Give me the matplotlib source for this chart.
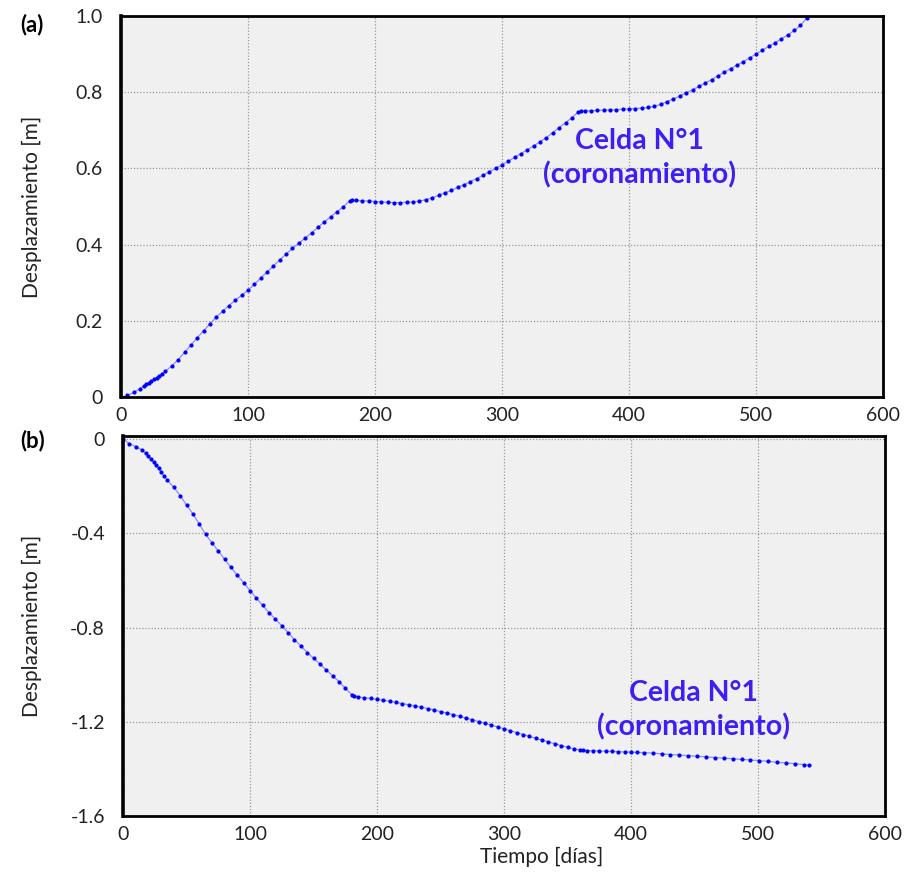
import matplotlib
matplotlib.use("Agg")
import matplotlib.pyplot as plt

plt.rcParams['font.family'] = ['Lato', 'DejaVu Sans']

# ---------------- data ----------------
t_a = [0, 5, 10, 15, 18, 20, 22, 24, 26, 28, 30, 32, 35, 40, 45, 50, 55, 60, 65, 70,
       75, 80, 85, 90, 95, 100, 105, 110, 115, 120, 125, 130, 135, 140, 145, 150, 155,
       160, 165, 170, 175, 180, 182, 185, 190, 195, 200, 205, 210, 215, 220, 225, 230,
       235, 240, 245, 250, 255, 260, 265, 270, 275, 280, 285, 290, 295, 300, 305, 310,
       315, 320, 325, 330, 335, 340, 345, 350, 355, 360, 362, 365, 370, 375, 380, 385,
       390, 395, 400, 405, 410, 415, 420, 425, 430, 435, 440, 445, 450, 455, 460, 465,
       470, 475, 480, 485, 490, 495, 500, 505, 510, 515, 520, 525, 530, 535, 540]
d_a = [0.000, 0.004, 0.012, 0.022, 0.029, 0.034, 0.038, 0.042, 0.046, 0.051, 0.056,
       0.061, 0.068, 0.082, 0.098, 0.117, 0.136, 0.155, 0.174, 0.192, 0.210, 0.225,
       0.240, 0.254, 0.267, 0.280, 0.296, 0.312, 0.328, 0.344, 0.360, 0.375, 0.390,
       0.404, 0.417, 0.431, 0.445, 0.459, 0.473, 0.486, 0.499, 0.515, 0.517, 0.516,
       0.515, 0.514, 0.513, 0.512, 0.511, 0.510, 0.510, 0.511, 0.512, 0.514, 0.518,
       0.523, 0.529, 0.536, 0.542, 0.550, 0.557, 0.565, 0.573, 0.582, 0.591, 0.600,
       0.609, 0.619, 0.629, 0.639, 0.649, 0.659, 0.670, 0.681, 0.694, 0.707, 0.720,
       0.733, 0.748, 0.751, 0.751, 0.751, 0.752, 0.753, 0.753, 0.754, 0.755, 0.756,
       0.757, 0.758, 0.760, 0.763, 0.768, 0.775, 0.782, 0.790, 0.798, 0.806, 0.815,
       0.824, 0.833, 0.843, 0.852, 0.862, 0.871, 0.880, 0.890, 0.900, 0.910, 0.920,
       0.930, 0.940, 0.950, 0.962, 0.975, 0.995]

t_b = [0, 5, 10, 15, 18, 20, 22, 24, 26, 28, 30, 32, 35, 40, 45, 50, 55, 60, 65, 70,
       75, 80, 85, 90, 95, 100, 105, 110, 115, 120, 125, 130, 135, 140, 145, 150, 155,
       160, 165, 170, 175, 180, 182, 185, 190, 195, 200, 205, 210, 215, 220, 225, 230,
       235, 240, 245, 250, 255, 260, 265, 270, 275, 280, 285, 290, 295, 300, 305, 310,
       315, 320, 325, 330, 335, 340, 345, 350, 355, 360, 362, 365, 370, 375, 380, 385,
       390, 395, 400, 405, 410, 417, 424, 431, 438, 445, 452, 459, 466, 473, 480, 487,
       494, 501, 508, 515, 522, 529, 536, 540]
d_b = [0.000, -0.020, -0.032, -0.047, -0.060, -0.072, -0.085, -0.097, -0.110, -0.123,
       -0.140, -0.155, -0.175, -0.205, -0.240, -0.280, -0.318, -0.360, -0.405, -0.440,
       -0.475, -0.510, -0.545, -0.578, -0.610, -0.643, -0.675, -0.706, -0.737, -0.765,
       -0.792, -0.822, -0.851, -0.878, -0.906, -0.930, -0.955, -0.980, -1.004, -1.030,
       -1.057, -1.085, -1.092, -1.095, -1.098, -1.101, -1.105, -1.109, -1.113, -1.118,
       -1.123, -1.128, -1.133, -1.138, -1.144, -1.150, -1.157, -1.163, -1.170, -1.177,
       -1.184, -1.191, -1.199, -1.206, -1.214, -1.222, -1.230, -1.238, -1.246, -1.254,
       -1.262, -1.270, -1.278, -1.286, -1.293, -1.301, -1.308, -1.315, -1.320, -1.321,
       -1.322, -1.323, -1.324, -1.325, -1.326, -1.327, -1.328, -1.329, -1.330, -1.331,
       -1.333, -1.336, -1.339, -1.341, -1.344, -1.346, -1.349, -1.352, -1.354, -1.357,
       -1.360, -1.362, -1.365, -1.368, -1.372, -1.375, -1.378, -1.382, -1.384]

x_ticks = [0, 100, 200, 300, 400, 500, 600]
y_ticks_a = [0, 0.2, 0.4, 0.6, 0.8, 1.0]
y_labels_a = ["0", "0.2", "0.4", "0.6", "0.8", "1.0"]
y_ticks_b = [0, -0.4, -0.8, -1.2, -1.6]
y_labels_b = ["0", "-0.4", "-0.8", "-1.2", "-1.6"]
annot = "Celda N°1\n(coronamiento)"

# ---------------- figure ----------------
fig = plt.figure(figsize=(9.14, 8.72), dpi=100)
ax_a = fig.add_axes([0.1324, 0.5447, 0.8337, 0.437])
ax_b = fig.add_axes([0.1346, 0.0642, 0.8337, 0.4358])

line_col = '#8c8cff'
mk_col = '#0000ff'
txt_col = '#3d1ef5'
dark = '#222222'

def style(ax, lab_x):
    ax.set_facecolor('#f0f0f0')
    ax.grid(True, color='#9a9a9a', linestyle=(0, (1, 1.5)), linewidth=0.9)
    ax.set_axisbelow(True)
    for s in ax.spines.values():
        s.set_linewidth(2.0)
        s.set_color('black')
    ax.spines['left'].set_linewidth(2.6)
    ax.tick_params(length=0, labelsize=14, colors=dark)
    ax.tick_params(axis='y', pad=13)
    ax.tick_params(axis='x', pad=7)
    ax.set_xlim(0, 600)
    ax.set_xticks(x_ticks)
    ax.set_ylabel("Desplazamiento [m]", fontsize=15, color=dark)
    ax.yaxis.set_label_coords(lab_x, 0.5)

style(ax_a, -0.104)
style(ax_b, -0.106)

ax_a.plot(t_a, d_a, color=line_col, linewidth=0.9, marker='o', markersize=2.0,
          markerfacecolor=mk_col, markeredgecolor=mk_col)
ax_a.set_ylim(0, 1.0)
ax_a.set_yticks(y_ticks_a)
ax_a.set_yticklabels(y_labels_a)
ax_a.text(408, 0.627, annot, ha='center', va='center', fontsize=20.5,
          fontweight='bold', color=txt_col, linespacing=1.35)

ax_b.plot(t_b, d_b, color=line_col, linewidth=0.9, marker='o', markersize=2.0,
          markerfacecolor=mk_col, markeredgecolor=mk_col)
ax_b.set_ylim(-1.6, 0.013)
ax_b.set_yticks(y_ticks_b)
ax_b.set_yticklabels(y_labels_b)
ax_b.set_xlabel("Tiempo [días]", fontsize=15, color=dark)
ax_b.xaxis.set_label_coords(0.549, -0.08)
ax_b.text(449, -1.152, annot, ha='center', va='center', fontsize=20.5,
          fontweight='bold', color=txt_col, linespacing=1.35)

fig.text(0.022, 0.972, "(a)", fontsize=16, fontweight='bold', ha='left', va='center')
fig.text(0.022, 0.495, "(b)", fontsize=16, fontweight='bold', ha='left', va='center')

fig.savefig("out.png", dpi=100)
